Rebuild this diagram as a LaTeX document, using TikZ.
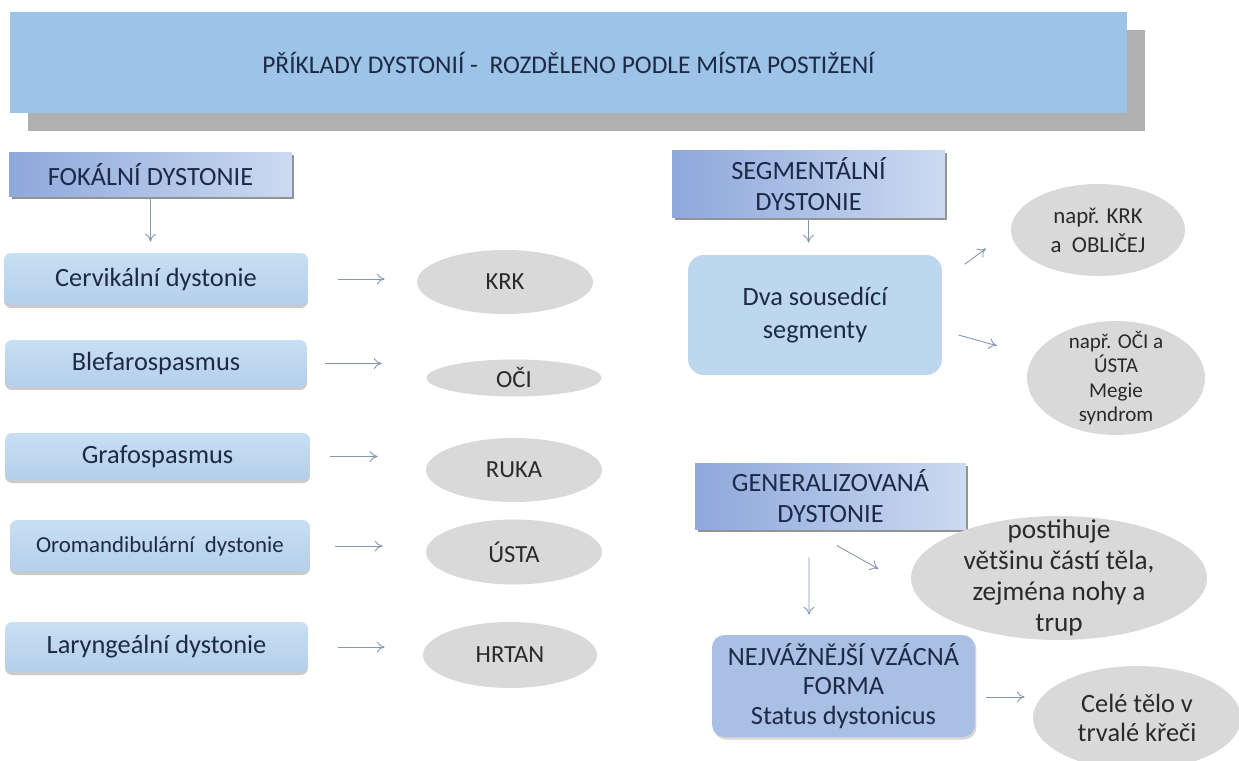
\documentclass[tikz,border=0pt]{standalone}
\usepackage{fontspec}
\setmainfont{Carlito}
\usepackage{tikz}
\usetikzlibrary{arrows.meta,shapes.geometric,shadows}

\definecolor{titlebg}{HTML}{9DC3E6}
\definecolor{titleshd}{HTML}{B0B0B0}
\definecolor{headl}{HTML}{8EA8DB}
\definecolor{headr}{HTML}{CCDAF1}
\definecolor{itemtop}{HTML}{C8DFF3}
\definecolor{itembot}{HTML}{B4CFEA}
\definecolor{pairbox}{HTML}{BDD7EE}
\definecolor{formbox}{HTML}{A9BFE4}
\definecolor{sitegray}{HTML}{D9D9D9}
\definecolor{navy}{HTML}{1D2A47}
\definecolor{sitetext}{HTML}{2A2A2A}
\definecolor{arrcol}{HTML}{8497B0}

\begin{document}
\begin{tikzpicture}[
  x=0.02cm, y=-0.02cm,
  titlebar/.style={fill=titlebg,minimum width=22.34cm,minimum height=2.02cm,
                   text=navy,font=\fontsize{14.5}{17}\selectfont,
                   drop shadow={shadow xshift=0.36cm,shadow yshift=-0.36cm,
                                fill=titleshd,opacity=1}},
  head/.style={left color=headl,right color=headr,align=center,text=navy,
               font=\fontsize{15}{18}\selectfont,
               drop shadow={shadow xshift=0.05cm,shadow yshift=-0.05cm,
                            fill=black!60,opacity=0.7}},
  item/.style={rounded corners=4pt,top color=itemtop,bottom color=itembot,
               align=center,text=navy,font=\fontsize{15}{18}\selectfont,
               drop shadow={shadow xshift=0cm,shadow yshift=-0.06cm,
                            fill=black!45,opacity=0.45}},
  site/.style={ellipse,fill=sitegray,inner sep=0pt,align=center,
               text=sitetext,font=\fontsize{14}{17}\selectfont},
  arr/.style={-{To[length=1.6mm,width=2.2mm]},draw=arrcol,line width=0.5pt}
]
\fill[white] (0,0) rectangle (1239,760);
\clip (0,0) rectangle (1239,760);

% title
\node[titlebar] (title) at (568.5,62.5)
  {PŘÍKLADY DYSTONIÍ -\ \ ROZDĚLENO PODLE MÍSTA POSTIŽENÍ};

% focal column
\node[head,minimum width=5.66cm,minimum height=0.9cm] (foc) at (150.5,174.5)
  {FOKÁLNÍ DYSTONIE};
\node[item,minimum width=6.08cm,minimum height=1.04cm] (cerv) at (156,279)
  {Cervikální dystonie};
\node[item,minimum width=6.04cm,minimum height=0.94cm] (blef) at (156,363.5)
  {Blefarospasmus};
\node[item,minimum width=6.10cm,minimum height=0.94cm] (graf) at (157.5,456.5)
  {Grafospasmus};
\node[item,minimum width=6.00cm,minimum height=1.04cm,
      font=\fontsize{13}{16}\selectfont] (oro) at (160,546)
  {Oromandibulární\ \ dystonie};
\node[item,minimum width=6.06cm,minimum height=1.0cm] (lar) at (156.5,647)
  {Laryngeální dystonie};

\node[site,minimum width=3.52cm,minimum height=1.28cm] (krk) at (505,282) {KRK};
\node[site,minimum width=3.50cm,minimum height=0.74cm] (oci) at (514,378) {OČI};
\node[site,minimum width=3.52cm,minimum height=1.28cm] (ruka) at (514,470) {RUKA};
\node[site,minimum width=3.52cm,minimum height=1.30cm] (usta) at (514,552) {ÚSTA};
\node[site,minimum width=3.48cm,minimum height=1.32cm] (hrtan) at (510,655) {HRTAN};

\draw[arr,shorten >=0.22cm] (foc) -- (foc |- cerv.north);
\draw[arr,shorten <=0.60cm,shorten >=0.64cm] (cerv.east) -- (cerv.east -| krk.west);
\draw[arr,shorten <=0.36cm,shorten >=0.89cm] (blef.east) -- (blef.east -| oci.west);
\draw[arr,shorten <=0.40cm,shorten >=0.96cm] (graf.east) -- (graf.east -| ruka.west);
\draw[arr,shorten <=0.50cm,shorten >=0.86cm] (oro.east) -- (oro.east -| usta.west);
\draw[arr,shorten <=0.60cm,shorten >=0.76cm] (lar.east) -- (lar.east -| hrtan.west);

% segmental
\node[head,minimum width=5.46cm,minimum height=1.36cm] (seg) at (808.5,184)
  {SEGMENTÁLNÍ\\DYSTONIE};
\node[rounded corners=9pt,fill=pairbox,minimum width=5.08cm,minimum height=2.4cm,
      align=center,text=navy,font=\fontsize{15}{18.7}\selectfont] (pair) at (815,315)
  {Dva sousedící\\segmenty};
\node[site,minimum width=3.48cm,minimum height=1.84cm,
      font=\fontsize{13}{16.4}\selectfont] (neckface) at (1098,230)
  {např. KRK\\a\ \ OBLIČEJ};
\node[site,minimum width=3.56cm,minimum height=2.28cm,
      label={[align=center,text=sitetext,font=\fontsize{12}{13.9}\selectfont]
             center:{např. OČI a\\ÚSTA\\Megie\\syndrom}}] (eyemouth) at (1116,378) {};

\draw[arr,shorten >=0.24cm] (seg) -- (seg.south |- pair.north);
\draw[arr,shorten <=0.56cm,shorten >=0.62cm] ([yshift=0.68cm]pair.east) -- (neckface.west);
\draw[arr,shorten <=0.33cm,shorten >=0.62cm] ([yshift=-0.31cm]pair.east)
  -- ([yshift=0.48cm]eyemouth.west);

% generalised
\node[head,minimum width=5.42cm,minimum height=1.32cm,
      font=\fontsize{15}{17.5}\selectfont] (gen) at (830.5,496)
  {GENERALIZOVANÁ\\DYSTONIE};
\node[site,minimum width=5.92cm,minimum height=2.48cm,
      label={[align=center,text=sitetext,font=\fontsize{15.5}{17.6}\selectfont]
             center:{postihuje\\většinu částí těla,\\zejména nohy a\\trup}}] (body) at (1059,578) {};
\node[rounded corners=7pt,fill=formbox,minimum width=5.26cm,minimum height=2.04cm,
      align=center,text=navy,font=\fontsize{15}{17}\selectfont,
      drop shadow={shadow xshift=0.03cm,shadow yshift=-0.05cm,fill=black!40,opacity=0.4}]
  (form) at (843.5,686)
  {NEJVÁŽNĚJŠÍ VZÁCNÁ\\FORMA\\Status dystonicus};
\node[site,minimum width=4.16cm,minimum height=2.08cm,
      font=\fontsize{15}{17}\selectfont] (whole) at (1137,718)
  {Celé tělo v\\trvalé křeči};

\draw[arr,shorten <=0.66cm,shorten >=0.74cm] ([xshift=-0.45cm]gen.south)
  -- ([yshift=-0.18cm]body.west);
\draw[arr,shorten <=0.56cm,shorten >=0.40cm] ([xshift=-0.43cm]gen.south)
  -- ([xshift=-0.69cm]form.north);
\draw[arr,shorten <=0.22cm,shorten >=0.16cm] ([yshift=-0.22cm]form.east)
  -- ([yshift=-0.22cm]form.east -| whole.west);
\end{tikzpicture}
\end{document}
